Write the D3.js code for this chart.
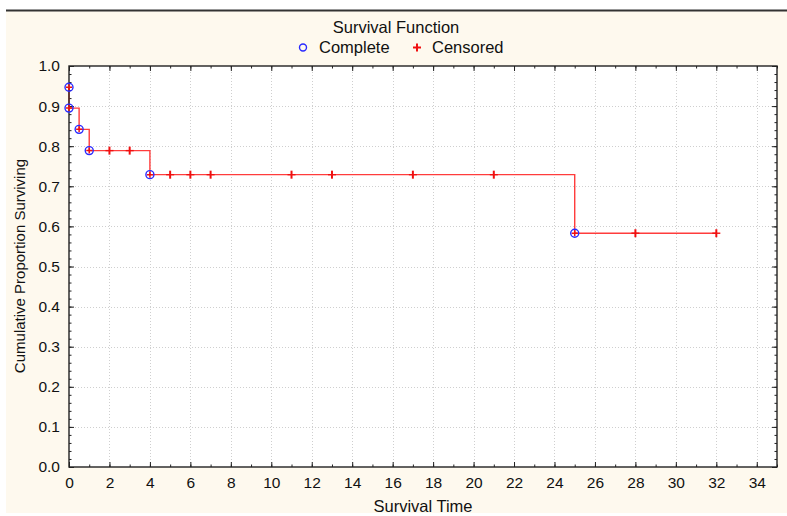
<!DOCTYPE html>
<html>
<head>
<meta charset="utf-8">
<script src="https://cdn.jsdelivr.net/npm/d3@7"></script>
<style>
  body { margin: 0; background: #fff; }
  svg { display: block; font-family: "Liberation Sans", Arial, sans-serif; }
</style>
</head>
<body>
<div id="chart"></div>
<script>
// survival data
var eventTime = [0, 0, 0.5, 1, 4, 25];
var eventSurv = [0.947, 0.895, 0.842, 0.789, 0.729, 0.583];
var censorTime = [2, 3, 5, 6, 7, 11, 13, 17, 21, 28, 32];
var xTicks = d3.range(0, 35, 2);
var yTicks = d3.range(0, 1.01, 0.1);

var W = 787, H = 516;
var pL = 69, pR = 777, pT = 66, pB = 467;

var svg = d3.select("#chart").append("svg")
    .attr("width", W)
    .attr("height", H);

// cream frame + top rule
svg.append("rect").attr("x", 6).attr("y", 11).attr("width", W - 6).attr("height", 502).attr("fill", "#fef9ee");
svg.append("line").attr("x1", 6).attr("x2", W).attr("y1", 10.5).attr("y2", 10.5).attr("stroke", "#333").attr("stroke-width", 2);

var x = d3.scaleLinear().domain([0, 35]).range([pL, pR]);
var y = d3.scaleLinear().domain([0, 1]).range([pB, pT]);

svg.append("rect")
    .attr("x", pL).attr("y", pT)
    .attr("width", pR - pL).attr("height", pB - pT)
    .attr("fill", "#fff");

// dotted grid
var grid = svg.append("g").attr("stroke", "#cfcfcf").attr("stroke-dasharray", "1,2").attr("stroke-width", 1);
grid.selectAll(".gx").data(xTicks.filter(function (d) { return d > 0; }))
    .enter().append("line")
    .attr("x1", function (d) { return Math.round(x(d)) + 0.5; })
    .attr("x2", function (d) { return Math.round(x(d)) + 0.5; })
    .attr("y1", pT).attr("y2", pB);
grid.selectAll(".gy").data(yTicks.filter(function (d) { return d > 0.05 && d < 0.95; }))
    .enter().append("line")
    .attr("y1", function (d) { return Math.round(y(d)) + 0.5; })
    .attr("y2", function (d) { return Math.round(y(d)) + 0.5; })
    .attr("x1", pL).attr("x2", pR);

// axes, ticks pointing inwards
function styleAxis(g) {
    g.select(".domain").remove();
    g.selectAll(".tick line").attr("stroke", "#222");
    g.selectAll(".tick text").attr("fill", "#111").style("font-size", "15.5px");
}

var xMinor = d3.range(0, 36, 1);
var yMinor = d3.range(0, 1.001, 0.02);

svg.append("g").attr("transform", "translate(0," + pB + ")")
    .call(d3.axisBottom(x).tickValues(xTicks).tickSize(-5).tickPadding(10).tickFormat(d3.format("d")))
    .call(styleAxis);
svg.append("g").attr("transform", "translate(0," + pB + ")")
    .call(d3.axisBottom(x).tickValues(xMinor).tickSize(-2.5).tickFormat(""))
    .call(styleAxis);
svg.append("g").attr("transform", "translate(0," + pT + ")")
    .call(d3.axisTop(x).tickValues(xTicks).tickSize(-5).tickFormat(""))
    .call(styleAxis);
svg.append("g").attr("transform", "translate(0," + pT + ")")
    .call(d3.axisTop(x).tickValues(xMinor).tickSize(-2.5).tickFormat(""))
    .call(styleAxis);

svg.append("g").attr("transform", "translate(" + pL + ",0)")
    .call(d3.axisLeft(y).tickValues(yTicks).tickSize(-5).tickPadding(9).tickFormat(d3.format(".1f")))
    .call(styleAxis);
svg.append("g").attr("transform", "translate(" + pL + ",0)")
    .call(d3.axisLeft(y).tickValues(yMinor).tickSize(-2.5).tickFormat(""))
    .call(styleAxis);
svg.append("g").attr("transform", "translate(" + pR + ",0)")
    .call(d3.axisRight(y).tickValues(yTicks).tickSize(-5).tickFormat(""))
    .call(styleAxis);
svg.append("g").attr("transform", "translate(" + pR + ",0)")
    .call(d3.axisRight(y).tickValues(yMinor).tickSize(-2.5).tickFormat(""))
    .call(styleAxis);

// step function (starts at the first event, the drop from 1.0 sits on the axis)
function survAt(t) {
    var s = 1;
    for (var i = 0; i < eventTime.length; i++) {
        if (eventTime[i] <= t) s = eventSurv[i];
    }
    return s;
}
var lastTime = d3.max(censorTime);
var stepPts = [];
for (var i = 0; i < eventTime.length; i++) {
    stepPts.push([eventTime[i], eventSurv[i]]);
}
stepPts.push([lastTime, survAt(lastTime)]);

var line = d3.line()
    .x(function (d) { return x(d[0]); })
    .y(function (d) { return y(d[1]); })
    .curve(d3.curveStepAfter);

svg.append("path")
    .datum(stepPts)
    .attr("d", line)
    .attr("fill", "none")
    .attr("stroke", "#ff3c3c")
    .attr("stroke-width", 1.4);

svg.append("rect")
    .attr("x", pL).attr("y", pT)
    .attr("width", pR - pL).attr("height", pB - pT)
    .attr("fill", "none").attr("stroke", "#222").attr("stroke-width", 1.4);

// censored marks
var cens = svg.append("g").attr("stroke", "#f01010").attr("stroke-width", 2);
cens.selectAll("line.v").data(censorTime).enter().append("line")
    .attr("x1", function (d) { return x(d); })
    .attr("x2", function (d) { return x(d); })
    .attr("y1", function (d) { return y(survAt(d)) - 4; })
    .attr("y2", function (d) { return y(survAt(d)) + 4; });
cens.selectAll("line.h").data(censorTime).enter().append("line")
    .attr("stroke-width", 1.4)
    .attr("x1", function (d) { return x(d) - 4; })
    .attr("x2", function (d) { return x(d) + 4; })
    .attr("y1", function (d) { return y(survAt(d)); })
    .attr("y2", function (d) { return y(survAt(d)); });

// complete events: blue circles with red cross
var ev = svg.append("g").selectAll("g").data(eventTime).enter().append("g")
    .attr("transform", function (d, i) { return "translate(" + x(d) + "," + y(eventSurv[i]) + ")"; });
ev.append("path").attr("d", "M-3,0H3M0,-3V3").attr("stroke", "#f01010").attr("stroke-width", 1.5);
ev.append("circle").attr("r", 4).attr("fill", "none").attr("stroke", "#2a2aff").attr("stroke-width", 1.4);

// titles and legend
svg.append("text").attr("x", 396).attr("y", 33).attr("text-anchor", "middle")
    .style("font-size", "16.5px").attr("fill", "#111").text("Survival Function");
svg.append("circle").attr("cx", 303).attr("cy", 47.5).attr("r", 3.5)
    .attr("fill", "none").attr("stroke", "#2a2aff").attr("stroke-width", 1.4);
svg.append("text").attr("x", 319).attr("y", 53).style("font-size", "16.5px").attr("fill", "#111").text("Complete");
svg.append("path").attr("d", "M413,47.5H421M417,43.5V51.5").attr("stroke", "#f01010").attr("stroke-width", 2);
svg.append("text").attr("x", 432).attr("y", 53).style("font-size", "16.5px").attr("fill", "#111").text("Censored");

svg.append("text").attr("x", 423).attr("y", 512).attr("text-anchor", "middle")
    .style("font-size", "16.5px").attr("fill", "#111").text("Survival Time");
svg.append("text").attr("transform", "translate(25,266) rotate(-90)").attr("text-anchor", "middle")
    .style("font-size", "15px").attr("fill", "#111").text("Cumulative Proportion Surviving");
</script>
</body>
</html>
